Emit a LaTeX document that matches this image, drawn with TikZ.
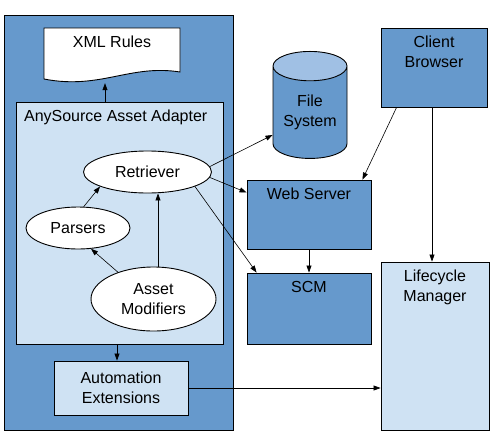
\documentclass[tikz,border=0pt]{standalone}
\usepackage{fontspec}
\setmainfont{Liberation Sans}
\usetikzlibrary{shapes.geometric,arrows.meta}
\definecolor{darkblue}{RGB}{102,153,204}
\definecolor{paleblue}{RGB}{207,226,243}
\definecolor{capblue}{RGB}{160,192,228}
\begin{document}
\begin{tikzpicture}[
		x = 1pt, y = -1pt, font = \fontsize{16}{20}\selectfont,
		box/.style = {draw, line width = 0.9pt, rectangle, inner sep = 0pt},
		oval/.style = {draw, line width = 0.9pt, ellipse, fill = white, inner sep = 0pt, align = center},
		link/.style = {-{Triangle[length = 7pt, width = 5pt]}, line width = 0.6pt},
		toplabel/.style = {label = {[align = center, anchor = north, yshift = -5pt]north:#1}}
	]
		\useasboundingbox (0,0) rectangle (494,434);
		\node[box, fill = darkblue, minimum width = 229pt, minimum height = 415pt] (host) at (118.5,222.5) {};
		\draw[line width = 0.9pt, fill = white] (44,28) -- (180,28) -- (180,72) .. controls (130,64) and (100,90) .. (44,79) -- cycle;
		\node[inner sep = 0pt, minimum width = 136pt, minimum height = 52pt, toplabel = {XML Rules}] (xml) at (112,54) {};
		\node[box, fill = paleblue, minimum width = 207pt, minimum height = 242pt,
			label = {[anchor = north west, xshift = 5pt, yshift = -5pt]north west:AnySource Asset Adapter}] (adapter) at (119.5,223) {};
		\node[oval, minimum width = 128pt, minimum height = 42pt] (retriever) at (147.5,172) {Retriever};
		\node[oval, minimum width = 104pt, minimum height = 42pt] (parsers) at (78,228) {Parsers};
		\node[oval, minimum width = 125pt, minimum height = 64pt] (modifiers) at (153.5,299) {Asset\\Modifiers};
		\node[box, fill = paleblue, minimum width = 134pt, minimum height = 54pt, align = center] (auto) at (121,388) {Automation\\Extensions};
		\node[cylinder, shape border rotate = 90, draw, line width = 0.9pt, cylinder uses custom fill,
			cylinder body fill = darkblue, cylinder end fill = capblue, aspect = 0.55,
			minimum width = 74pt, minimum height = 107pt, inner sep = 0pt, align = center] (fs) at (310,112.5) {File\\System};
		\node[box, fill = darkblue, minimum width = 106pt, minimum height = 79pt, toplabel = {Client\\Browser}] (client) at (434,67.5) {};
		\node[box, fill = darkblue, minimum width = 124pt, minimum height = 69pt, toplabel = {Web Server}] (web) at (309,214.5) {};
		\node[box, fill = darkblue, minimum width = 124pt, minimum height = 71pt, toplabel = {SCM}] (scm) at (309,308.5) {};
		\node[box, fill = paleblue, minimum width = 108pt, minimum height = 168pt, toplabel = {Lifecycle\\Manager}] (life) at (435,346) {};
		\draw[link] ([xshift = -14.5pt]adapter.north) -- ([xshift = -7pt, yshift = -3pt]xml.south);
		\draw[link] (parsers.75) -- (retriever.197);
		\draw[link] (modifiers.143) -- (parsers.302);
		\draw[link] ([xshift = 4.5pt]modifiers.north) -- ([xshift = 4.5pt]modifiers.north |- retriever.south);
		\draw[link] (retriever.5) -- ([yshift = -22.5pt]fs.west);
		\draw[link] (retriever.355) -- ([yshift = 22pt]web.west);
		\draw[link] (retriever.-17) -- ([xshift = 10pt]scm.north west);
		\draw[link] ([xshift = 16pt]client.south west) -- ([xshift = -9pt]web.north east);
		\draw[link] ([xshift = -2pt]client.south) -- ([xshift = -3pt]life.north);
		\draw[link] (web.south) -- (scm.north);
		\draw[link] ([xshift = -2.5pt]adapter.south) -- ([xshift = -2.5pt]adapter.south |- auto.north);
		\draw[link] (auto.east) -- (auto.east -| life.west);
\end{tikzpicture}
\end{document}
